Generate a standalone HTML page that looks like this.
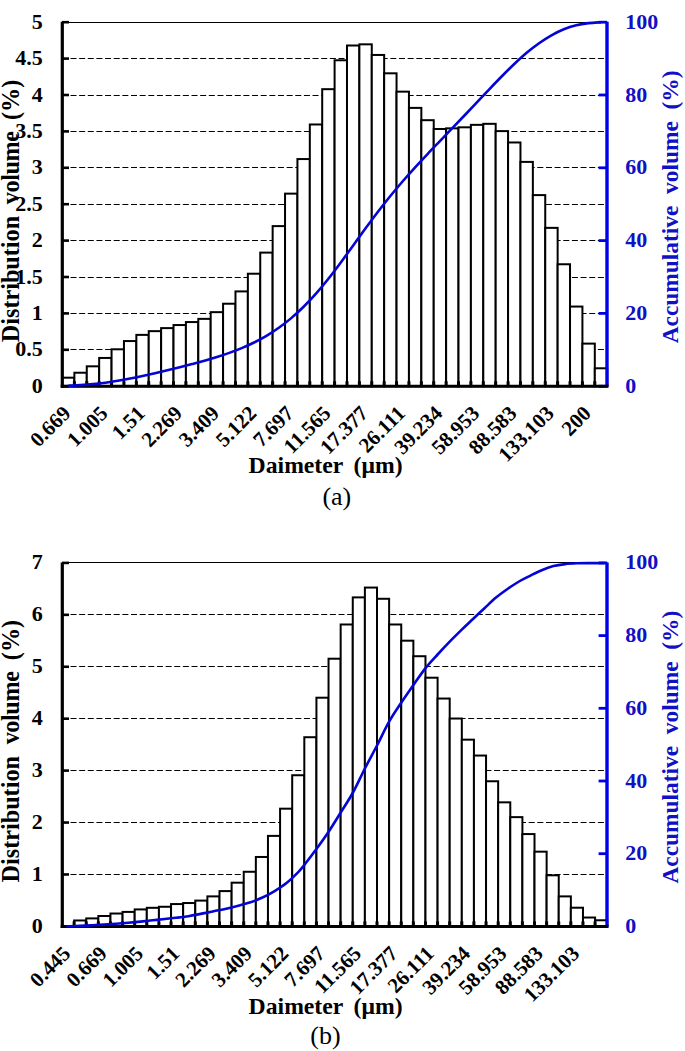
<!DOCTYPE html>
<html><head><meta charset="utf-8"><style>
html,body{margin:0;padding:0;background:#fff;}
svg{display:block;}
</style></head><body>
<svg width="685" height="1051" viewBox="0 0 685 1051">
<rect width="685" height="1051" fill="#fff"/>
<line x1="70.50" y1="349.50" x2="605.20" y2="349.50" stroke="#000" stroke-width="1" stroke-dasharray="6 2.645"/>
<line x1="70.50" y1="313.50" x2="605.20" y2="313.50" stroke="#000" stroke-width="1" stroke-dasharray="6 2.645"/>
<line x1="70.50" y1="277.50" x2="605.20" y2="277.50" stroke="#000" stroke-width="1" stroke-dasharray="6 2.645"/>
<line x1="70.50" y1="240.50" x2="605.20" y2="240.50" stroke="#000" stroke-width="1" stroke-dasharray="6 2.645"/>
<line x1="70.50" y1="204.50" x2="605.20" y2="204.50" stroke="#000" stroke-width="1" stroke-dasharray="6 2.645"/>
<line x1="70.50" y1="167.50" x2="605.20" y2="167.50" stroke="#000" stroke-width="1" stroke-dasharray="6 2.645"/>
<line x1="70.50" y1="131.50" x2="605.20" y2="131.50" stroke="#000" stroke-width="1" stroke-dasharray="6 2.645"/>
<line x1="70.50" y1="95.50" x2="605.20" y2="95.50" stroke="#000" stroke-width="1" stroke-dasharray="6 2.645"/>
<line x1="70.50" y1="58.50" x2="605.20" y2="58.50" stroke="#000" stroke-width="1" stroke-dasharray="6 2.645"/>
<line x1="62.00" y1="22.50" x2="607.20" y2="22.50" stroke="#000" stroke-width="1"/>
<rect x="62.00" y="377.68" width="12.39" height="8.52" fill="#fff" stroke="#000" stroke-width="2"/>
<rect x="74.39" y="372.73" width="12.39" height="13.47" fill="#fff" stroke="#000" stroke-width="2"/>
<rect x="86.78" y="366.33" width="12.39" height="19.87" fill="#fff" stroke="#000" stroke-width="2"/>
<rect x="99.17" y="357.95" width="12.39" height="28.25" fill="#fff" stroke="#000" stroke-width="2"/>
<rect x="111.56" y="349.29" width="12.39" height="36.91" fill="#fff" stroke="#000" stroke-width="2"/>
<rect x="123.95" y="341.06" width="12.39" height="45.14" fill="#fff" stroke="#000" stroke-width="2"/>
<rect x="136.35" y="334.88" width="12.39" height="51.32" fill="#fff" stroke="#000" stroke-width="2"/>
<rect x="148.74" y="331.16" width="12.39" height="55.04" fill="#fff" stroke="#000" stroke-width="2"/>
<rect x="161.13" y="328.11" width="12.39" height="58.09" fill="#fff" stroke="#000" stroke-width="2"/>
<rect x="173.52" y="325.05" width="12.39" height="61.15" fill="#fff" stroke="#000" stroke-width="2"/>
<rect x="185.91" y="322.06" width="12.39" height="64.14" fill="#fff" stroke="#000" stroke-width="2"/>
<rect x="198.30" y="318.86" width="12.39" height="67.34" fill="#fff" stroke="#000" stroke-width="2"/>
<rect x="210.69" y="312.16" width="12.39" height="74.04" fill="#fff" stroke="#000" stroke-width="2"/>
<rect x="223.08" y="303.72" width="12.39" height="82.48" fill="#fff" stroke="#000" stroke-width="2"/>
<rect x="235.47" y="291.41" width="12.39" height="94.79" fill="#fff" stroke="#000" stroke-width="2"/>
<rect x="247.86" y="273.72" width="12.39" height="112.48" fill="#fff" stroke="#000" stroke-width="2"/>
<rect x="260.25" y="252.61" width="12.39" height="133.59" fill="#fff" stroke="#000" stroke-width="2"/>
<rect x="272.65" y="226.11" width="12.39" height="160.09" fill="#fff" stroke="#000" stroke-width="2"/>
<rect x="285.04" y="193.64" width="12.39" height="192.56" fill="#fff" stroke="#000" stroke-width="2"/>
<rect x="297.43" y="159.06" width="12.39" height="227.14" fill="#fff" stroke="#000" stroke-width="2"/>
<rect x="309.82" y="124.48" width="12.39" height="261.72" fill="#fff" stroke="#000" stroke-width="2"/>
<rect x="322.21" y="89.18" width="12.39" height="297.02" fill="#fff" stroke="#000" stroke-width="2"/>
<rect x="334.60" y="60.27" width="12.39" height="325.93" fill="#fff" stroke="#000" stroke-width="2"/>
<rect x="346.99" y="45.50" width="12.39" height="340.70" fill="#fff" stroke="#000" stroke-width="2"/>
<rect x="359.38" y="44.33" width="12.39" height="341.87" fill="#fff" stroke="#000" stroke-width="2"/>
<rect x="371.77" y="54.96" width="12.39" height="331.24" fill="#fff" stroke="#000" stroke-width="2"/>
<rect x="384.16" y="73.31" width="12.39" height="312.89" fill="#fff" stroke="#000" stroke-width="2"/>
<rect x="396.55" y="91.65" width="12.39" height="294.55" fill="#fff" stroke="#000" stroke-width="2"/>
<rect x="408.95" y="107.89" width="12.39" height="278.31" fill="#fff" stroke="#000" stroke-width="2"/>
<rect x="421.34" y="120.19" width="12.39" height="266.01" fill="#fff" stroke="#000" stroke-width="2"/>
<rect x="433.73" y="129.00" width="12.39" height="257.20" fill="#fff" stroke="#000" stroke-width="2"/>
<rect x="446.12" y="128.34" width="12.39" height="257.86" fill="#fff" stroke="#000" stroke-width="2"/>
<rect x="458.51" y="127.32" width="12.39" height="258.88" fill="#fff" stroke="#000" stroke-width="2"/>
<rect x="470.90" y="124.85" width="12.39" height="261.35" fill="#fff" stroke="#000" stroke-width="2"/>
<rect x="483.29" y="123.83" width="12.39" height="262.37" fill="#fff" stroke="#000" stroke-width="2"/>
<rect x="495.68" y="131.11" width="12.39" height="255.09" fill="#fff" stroke="#000" stroke-width="2"/>
<rect x="508.07" y="142.47" width="12.39" height="243.73" fill="#fff" stroke="#000" stroke-width="2"/>
<rect x="520.46" y="161.90" width="12.39" height="224.30" fill="#fff" stroke="#000" stroke-width="2"/>
<rect x="532.85" y="195.10" width="12.39" height="191.10" fill="#fff" stroke="#000" stroke-width="2"/>
<rect x="545.25" y="227.86" width="12.39" height="158.34" fill="#fff" stroke="#000" stroke-width="2"/>
<rect x="557.64" y="264.26" width="12.39" height="121.94" fill="#fff" stroke="#000" stroke-width="2"/>
<rect x="570.03" y="306.56" width="12.39" height="79.64" fill="#fff" stroke="#000" stroke-width="2"/>
<rect x="582.42" y="343.61" width="12.39" height="42.59" fill="#fff" stroke="#000" stroke-width="2"/>
<rect x="594.81" y="368.29" width="12.39" height="17.91" fill="#fff" stroke="#000" stroke-width="2"/>
<line x1="74.39" y1="386.20" x2="74.39" y2="381.20" stroke="#000" stroke-width="3"/>
<line x1="86.78" y1="386.20" x2="86.78" y2="381.20" stroke="#000" stroke-width="3"/>
<line x1="99.17" y1="386.20" x2="99.17" y2="381.20" stroke="#000" stroke-width="3"/>
<line x1="111.56" y1="386.20" x2="111.56" y2="381.20" stroke="#000" stroke-width="3"/>
<line x1="123.95" y1="386.20" x2="123.95" y2="381.20" stroke="#000" stroke-width="3"/>
<line x1="136.35" y1="386.20" x2="136.35" y2="381.20" stroke="#000" stroke-width="3"/>
<line x1="148.74" y1="386.20" x2="148.74" y2="381.20" stroke="#000" stroke-width="3"/>
<line x1="161.13" y1="386.20" x2="161.13" y2="381.20" stroke="#000" stroke-width="3"/>
<line x1="173.52" y1="386.20" x2="173.52" y2="381.20" stroke="#000" stroke-width="3"/>
<line x1="185.91" y1="386.20" x2="185.91" y2="381.20" stroke="#000" stroke-width="3"/>
<line x1="198.30" y1="386.20" x2="198.30" y2="381.20" stroke="#000" stroke-width="3"/>
<line x1="210.69" y1="386.20" x2="210.69" y2="381.20" stroke="#000" stroke-width="3"/>
<line x1="223.08" y1="386.20" x2="223.08" y2="381.20" stroke="#000" stroke-width="3"/>
<line x1="235.47" y1="386.20" x2="235.47" y2="381.20" stroke="#000" stroke-width="3"/>
<line x1="247.86" y1="386.20" x2="247.86" y2="381.20" stroke="#000" stroke-width="3"/>
<line x1="260.25" y1="386.20" x2="260.25" y2="381.20" stroke="#000" stroke-width="3"/>
<line x1="272.65" y1="386.20" x2="272.65" y2="381.20" stroke="#000" stroke-width="3"/>
<line x1="285.04" y1="386.20" x2="285.04" y2="381.20" stroke="#000" stroke-width="3"/>
<line x1="297.43" y1="386.20" x2="297.43" y2="381.20" stroke="#000" stroke-width="3"/>
<line x1="309.82" y1="386.20" x2="309.82" y2="381.20" stroke="#000" stroke-width="3"/>
<line x1="322.21" y1="386.20" x2="322.21" y2="381.20" stroke="#000" stroke-width="3"/>
<line x1="334.60" y1="386.20" x2="334.60" y2="381.20" stroke="#000" stroke-width="3"/>
<line x1="346.99" y1="386.20" x2="346.99" y2="381.20" stroke="#000" stroke-width="3"/>
<line x1="359.38" y1="386.20" x2="359.38" y2="381.20" stroke="#000" stroke-width="3"/>
<line x1="371.77" y1="386.20" x2="371.77" y2="381.20" stroke="#000" stroke-width="3"/>
<line x1="384.16" y1="386.20" x2="384.16" y2="381.20" stroke="#000" stroke-width="3"/>
<line x1="396.55" y1="386.20" x2="396.55" y2="381.20" stroke="#000" stroke-width="3"/>
<line x1="408.95" y1="386.20" x2="408.95" y2="381.20" stroke="#000" stroke-width="3"/>
<line x1="421.34" y1="386.20" x2="421.34" y2="381.20" stroke="#000" stroke-width="3"/>
<line x1="433.73" y1="386.20" x2="433.73" y2="381.20" stroke="#000" stroke-width="3"/>
<line x1="446.12" y1="386.20" x2="446.12" y2="381.20" stroke="#000" stroke-width="3"/>
<line x1="458.51" y1="386.20" x2="458.51" y2="381.20" stroke="#000" stroke-width="3"/>
<line x1="470.90" y1="386.20" x2="470.90" y2="381.20" stroke="#000" stroke-width="3"/>
<line x1="483.29" y1="386.20" x2="483.29" y2="381.20" stroke="#000" stroke-width="3"/>
<line x1="495.68" y1="386.20" x2="495.68" y2="381.20" stroke="#000" stroke-width="3"/>
<line x1="508.07" y1="386.20" x2="508.07" y2="381.20" stroke="#000" stroke-width="3"/>
<line x1="520.46" y1="386.20" x2="520.46" y2="381.20" stroke="#000" stroke-width="3"/>
<line x1="532.85" y1="386.20" x2="532.85" y2="381.20" stroke="#000" stroke-width="3"/>
<line x1="545.25" y1="386.20" x2="545.25" y2="381.20" stroke="#000" stroke-width="3"/>
<line x1="557.64" y1="386.20" x2="557.64" y2="381.20" stroke="#000" stroke-width="3"/>
<line x1="570.03" y1="386.20" x2="570.03" y2="381.20" stroke="#000" stroke-width="3"/>
<line x1="582.42" y1="386.20" x2="582.42" y2="381.20" stroke="#000" stroke-width="3"/>
<line x1="594.81" y1="386.20" x2="594.81" y2="381.20" stroke="#000" stroke-width="3"/>
<line x1="62.30" y1="21.70" x2="62.30" y2="387.70" stroke="#000" stroke-width="3.2"/>
<line x1="62.00" y1="386.20" x2="69.00" y2="386.20" stroke="#000" stroke-width="2.6"/>
<line x1="62.00" y1="349.80" x2="69.00" y2="349.80" stroke="#000" stroke-width="2.6"/>
<line x1="62.00" y1="313.40" x2="69.00" y2="313.40" stroke="#000" stroke-width="2.6"/>
<line x1="62.00" y1="277.00" x2="69.00" y2="277.00" stroke="#000" stroke-width="2.6"/>
<line x1="62.00" y1="240.60" x2="69.00" y2="240.60" stroke="#000" stroke-width="2.6"/>
<line x1="62.00" y1="204.20" x2="69.00" y2="204.20" stroke="#000" stroke-width="2.6"/>
<line x1="62.00" y1="167.80" x2="69.00" y2="167.80" stroke="#000" stroke-width="2.6"/>
<line x1="62.00" y1="131.40" x2="69.00" y2="131.40" stroke="#000" stroke-width="2.6"/>
<line x1="62.00" y1="95.00" x2="69.00" y2="95.00" stroke="#000" stroke-width="2.6"/>
<line x1="62.00" y1="58.60" x2="69.00" y2="58.60" stroke="#000" stroke-width="2.6"/>
<line x1="62.00" y1="22.20" x2="69.00" y2="22.20" stroke="#000" stroke-width="2.6"/>
<line x1="607.00" y1="21.70" x2="607.00" y2="386.20" stroke="#0000E6" stroke-width="3.4"/>
<line x1="598.60" y1="386.20" x2="607.20" y2="386.20" stroke="#0000E6" stroke-width="2.8"/>
<line x1="598.60" y1="313.40" x2="607.20" y2="313.40" stroke="#0000E6" stroke-width="2.8"/>
<line x1="598.60" y1="240.60" x2="607.20" y2="240.60" stroke="#0000E6" stroke-width="2.8"/>
<line x1="598.60" y1="167.80" x2="607.20" y2="167.80" stroke="#0000E6" stroke-width="2.8"/>
<line x1="598.60" y1="95.00" x2="607.20" y2="95.00" stroke="#0000E6" stroke-width="2.8"/>
<line x1="598.60" y1="22.20" x2="607.20" y2="22.20" stroke="#0000E6" stroke-width="2.8"/>
<line x1="60.70" y1="386.20" x2="608.50" y2="386.20" stroke="#000" stroke-width="3"/>
<path d="M68.20,385.77 C70.26,385.66 76.46,385.38 80.59,385.10 C84.72,384.82 88.85,384.51 92.98,384.10 C97.11,383.70 101.24,383.23 105.37,382.69 C109.50,382.15 113.63,381.53 117.76,380.84 C121.89,380.16 126.02,379.39 130.15,378.58 C134.28,377.78 138.41,376.90 142.54,376.01 C146.67,375.12 150.80,374.20 154.93,373.25 C159.06,372.31 163.19,371.34 167.32,370.35 C171.45,369.35 175.58,368.33 179.71,367.28 C183.84,366.24 187.97,365.17 192.10,364.07 C196.23,362.97 200.37,361.88 204.50,360.70 C208.63,359.52 212.76,358.30 216.89,356.99 C221.02,355.69 225.15,354.34 229.28,352.86 C233.41,351.38 237.54,349.84 241.67,348.12 C245.80,346.39 249.93,344.54 254.06,342.48 C258.19,340.43 262.32,338.24 266.45,335.79 C270.58,333.34 274.71,330.72 278.84,327.78 C282.97,324.83 287.10,321.64 291.23,318.13 C295.36,314.63 299.49,310.84 303.62,306.76 C307.75,302.68 311.88,298.32 316.01,293.65 C320.14,288.99 324.27,283.98 328.40,278.78 C332.53,273.58 336.67,268.02 340.80,262.46 C344.93,256.90 349.06,251.10 353.19,245.40 C357.32,239.70 361.45,233.90 365.58,228.28 C369.71,222.66 373.84,217.07 377.97,211.69 C382.10,206.32 386.23,201.09 390.36,196.02 C394.49,190.95 398.62,186.05 402.75,181.27 C406.88,176.49 411.01,171.88 415.14,167.34 C419.27,162.79 423.40,158.38 427.53,154.02 C431.66,149.65 435.79,145.43 439.92,141.14 C444.05,136.84 448.18,132.54 452.31,128.22 C456.44,123.91 460.57,119.60 464.70,115.26 C468.83,110.92 472.97,106.54 477.10,102.17 C481.23,97.80 485.36,93.35 489.49,89.03 C493.62,84.71 497.75,80.42 501.88,76.26 C506.01,72.10 510.14,67.96 514.27,64.05 C518.40,60.15 522.53,56.29 526.66,52.82 C530.79,49.36 534.92,46.17 539.05,43.25 C543.18,40.34 547.31,37.66 551.44,35.32 C555.57,32.98 559.70,30.90 563.83,29.22 C567.96,27.54 572.09,26.25 576.22,25.23 C580.35,24.21 584.48,23.60 588.61,23.10 C592.74,22.59 598.94,22.35 601.00,22.20" fill="none" stroke="#0404D4" stroke-width="2.6"/>
<text x="42.80" y="385.20" text-anchor="end" dominant-baseline="central" font-family="Liberation Serif" font-weight="bold" font-size="22">0</text>
<text x="42.80" y="348.80" text-anchor="end" dominant-baseline="central" font-family="Liberation Serif" font-weight="bold" font-size="22">0.5</text>
<text x="42.80" y="312.40" text-anchor="end" dominant-baseline="central" font-family="Liberation Serif" font-weight="bold" font-size="22">1</text>
<text x="42.80" y="276.00" text-anchor="end" dominant-baseline="central" font-family="Liberation Serif" font-weight="bold" font-size="22">1.5</text>
<text x="42.80" y="239.60" text-anchor="end" dominant-baseline="central" font-family="Liberation Serif" font-weight="bold" font-size="22">2</text>
<text x="42.80" y="203.20" text-anchor="end" dominant-baseline="central" font-family="Liberation Serif" font-weight="bold" font-size="22">2.5</text>
<text x="42.80" y="166.80" text-anchor="end" dominant-baseline="central" font-family="Liberation Serif" font-weight="bold" font-size="22">3</text>
<text x="42.80" y="130.40" text-anchor="end" dominant-baseline="central" font-family="Liberation Serif" font-weight="bold" font-size="22">3.5</text>
<text x="42.80" y="94.00" text-anchor="end" dominant-baseline="central" font-family="Liberation Serif" font-weight="bold" font-size="22">4</text>
<text x="42.80" y="57.60" text-anchor="end" dominant-baseline="central" font-family="Liberation Serif" font-weight="bold" font-size="22">4.5</text>
<text x="42.80" y="21.20" text-anchor="end" dominant-baseline="central" font-family="Liberation Serif" font-weight="bold" font-size="22">5</text>
<text x="625.20" y="385.20" dominant-baseline="central" font-family="Liberation Serif" font-weight="bold" font-size="22" fill="#1010C4">0</text>
<text x="625.20" y="312.40" dominant-baseline="central" font-family="Liberation Serif" font-weight="bold" font-size="22" fill="#1010C4">20</text>
<text x="625.20" y="239.60" dominant-baseline="central" font-family="Liberation Serif" font-weight="bold" font-size="22" fill="#1010C4">40</text>
<text x="625.20" y="166.80" dominant-baseline="central" font-family="Liberation Serif" font-weight="bold" font-size="22" fill="#1010C4">60</text>
<text x="625.20" y="94.00" dominant-baseline="central" font-family="Liberation Serif" font-weight="bold" font-size="22" fill="#1010C4">80</text>
<text x="625.20" y="21.20" dominant-baseline="central" font-family="Liberation Serif" font-weight="bold" font-size="22" fill="#1010C4">100</text>
<text transform="translate(66.90,409.70) rotate(-45)" text-anchor="end" dominant-baseline="central" font-family="Liberation Serif" font-weight="bold" font-size="21">0.669</text>
<text transform="translate(104.07,409.70) rotate(-45)" text-anchor="end" dominant-baseline="central" font-family="Liberation Serif" font-weight="bold" font-size="21">1.005</text>
<text transform="translate(141.24,409.70) rotate(-45)" text-anchor="end" dominant-baseline="central" font-family="Liberation Serif" font-weight="bold" font-size="21">1.51</text>
<text transform="translate(178.41,409.70) rotate(-45)" text-anchor="end" dominant-baseline="central" font-family="Liberation Serif" font-weight="bold" font-size="21">2.269</text>
<text transform="translate(215.59,409.70) rotate(-45)" text-anchor="end" dominant-baseline="central" font-family="Liberation Serif" font-weight="bold" font-size="21">3.409</text>
<text transform="translate(252.76,409.70) rotate(-45)" text-anchor="end" dominant-baseline="central" font-family="Liberation Serif" font-weight="bold" font-size="21">5.122</text>
<text transform="translate(289.93,409.70) rotate(-45)" text-anchor="end" dominant-baseline="central" font-family="Liberation Serif" font-weight="bold" font-size="21">7.697</text>
<text transform="translate(327.10,409.70) rotate(-45)" text-anchor="end" dominant-baseline="central" font-family="Liberation Serif" font-weight="bold" font-size="21">11.565</text>
<text transform="translate(364.28,409.70) rotate(-45)" text-anchor="end" dominant-baseline="central" font-family="Liberation Serif" font-weight="bold" font-size="21">17.377</text>
<text transform="translate(401.45,409.70) rotate(-45)" text-anchor="end" dominant-baseline="central" font-family="Liberation Serif" font-weight="bold" font-size="21">26.111</text>
<text transform="translate(438.62,409.70) rotate(-45)" text-anchor="end" dominant-baseline="central" font-family="Liberation Serif" font-weight="bold" font-size="21">39.234</text>
<text transform="translate(475.80,409.70) rotate(-45)" text-anchor="end" dominant-baseline="central" font-family="Liberation Serif" font-weight="bold" font-size="21">58.953</text>
<text transform="translate(512.97,409.70) rotate(-45)" text-anchor="end" dominant-baseline="central" font-family="Liberation Serif" font-weight="bold" font-size="21">88.583</text>
<text transform="translate(550.14,409.70) rotate(-45)" text-anchor="end" dominant-baseline="central" font-family="Liberation Serif" font-weight="bold" font-size="21">133.103</text>
<text transform="translate(587.31,409.70) rotate(-45)" text-anchor="end" dominant-baseline="central" font-family="Liberation Serif" font-weight="bold" font-size="21">200</text>
<text transform="translate(19.3,342.20) rotate(-90)" font-family="Liberation Serif" font-weight="bold" font-size="24.2">Distribution<tspan dx="-0.40">&#160;&#160;</tspan><tspan letter-spacing="-0.4">volume</tspan><tspan dx="-0.70">&#160;&#160;(%)</tspan></text>
<text transform="translate(677.60,206.95) rotate(-90)" text-anchor="middle" font-family="Liberation Serif" font-weight="bold" font-size="23.4" fill="#1010C4">Accumulative&#160;&#160;volume&#160;&#160;(%)</text>
<text x="248.6" y="473.10" font-family="Liberation Serif" font-weight="bold" font-size="23.7">Daimeter</text>
<text x="353.6" y="473.10" font-family="Liberation Serif" font-weight="bold" font-size="23.7">(&#956;m)</text>
<text x="336.85" y="505.30" text-anchor="middle" font-family="Liberation Serif" font-size="26">(a)</text>
<line x1="70.50" y1="874.50" x2="605.20" y2="874.50" stroke="#000" stroke-width="1" stroke-dasharray="6 2.645"/>
<line x1="70.50" y1="822.50" x2="605.20" y2="822.50" stroke="#000" stroke-width="1" stroke-dasharray="6 2.645"/>
<line x1="70.50" y1="770.50" x2="605.20" y2="770.50" stroke="#000" stroke-width="1" stroke-dasharray="6 2.645"/>
<line x1="70.50" y1="718.50" x2="605.20" y2="718.50" stroke="#000" stroke-width="1" stroke-dasharray="6 2.645"/>
<line x1="70.50" y1="666.50" x2="605.20" y2="666.50" stroke="#000" stroke-width="1" stroke-dasharray="6 2.645"/>
<line x1="70.50" y1="614.50" x2="605.20" y2="614.50" stroke="#000" stroke-width="1" stroke-dasharray="6 2.645"/>
<line x1="62.00" y1="562.50" x2="607.20" y2="562.50" stroke="#000" stroke-width="1"/>
<rect x="74.12" y="920.48" width="12.12" height="5.92" fill="#fff" stroke="#000" stroke-width="2"/>
<rect x="86.23" y="918.40" width="12.12" height="8.00" fill="#fff" stroke="#000" stroke-width="2"/>
<rect x="98.35" y="916.01" width="12.12" height="10.39" fill="#fff" stroke="#000" stroke-width="2"/>
<rect x="110.46" y="913.52" width="12.12" height="12.88" fill="#fff" stroke="#000" stroke-width="2"/>
<rect x="122.58" y="911.91" width="12.12" height="14.49" fill="#fff" stroke="#000" stroke-width="2"/>
<rect x="134.69" y="909.42" width="12.12" height="16.98" fill="#fff" stroke="#000" stroke-width="2"/>
<rect x="146.81" y="907.81" width="12.12" height="18.59" fill="#fff" stroke="#000" stroke-width="2"/>
<rect x="158.92" y="906.77" width="12.12" height="19.63" fill="#fff" stroke="#000" stroke-width="2"/>
<rect x="171.04" y="904.07" width="12.12" height="22.33" fill="#fff" stroke="#000" stroke-width="2"/>
<rect x="183.16" y="903.03" width="12.12" height="23.37" fill="#fff" stroke="#000" stroke-width="2"/>
<rect x="195.27" y="900.59" width="12.12" height="25.81" fill="#fff" stroke="#000" stroke-width="2"/>
<rect x="207.39" y="896.39" width="12.12" height="30.01" fill="#fff" stroke="#000" stroke-width="2"/>
<rect x="219.50" y="891.09" width="12.12" height="35.31" fill="#fff" stroke="#000" stroke-width="2"/>
<rect x="231.62" y="882.68" width="12.12" height="43.72" fill="#fff" stroke="#000" stroke-width="2"/>
<rect x="243.73" y="871.77" width="12.12" height="54.63" fill="#fff" stroke="#000" stroke-width="2"/>
<rect x="255.85" y="856.97" width="12.12" height="69.43" fill="#fff" stroke="#000" stroke-width="2"/>
<rect x="267.96" y="835.89" width="12.12" height="90.51" fill="#fff" stroke="#000" stroke-width="2"/>
<rect x="280.08" y="808.68" width="12.12" height="117.72" fill="#fff" stroke="#000" stroke-width="2"/>
<rect x="292.20" y="775.24" width="12.12" height="151.16" fill="#fff" stroke="#000" stroke-width="2"/>
<rect x="304.31" y="737.22" width="12.12" height="189.18" fill="#fff" stroke="#000" stroke-width="2"/>
<rect x="316.43" y="697.71" width="12.12" height="228.69" fill="#fff" stroke="#000" stroke-width="2"/>
<rect x="328.54" y="658.71" width="12.12" height="267.69" fill="#fff" stroke="#000" stroke-width="2"/>
<rect x="340.66" y="624.49" width="12.12" height="301.91" fill="#fff" stroke="#000" stroke-width="2"/>
<rect x="352.77" y="597.38" width="12.12" height="329.02" fill="#fff" stroke="#000" stroke-width="2"/>
<rect x="364.89" y="587.57" width="12.12" height="338.83" fill="#fff" stroke="#000" stroke-width="2"/>
<rect x="377.00" y="598.78" width="12.12" height="327.62" fill="#fff" stroke="#000" stroke-width="2"/>
<rect x="389.12" y="624.49" width="12.12" height="301.91" fill="#fff" stroke="#000" stroke-width="2"/>
<rect x="401.24" y="640.69" width="12.12" height="285.71" fill="#fff" stroke="#000" stroke-width="2"/>
<rect x="413.35" y="656.22" width="12.12" height="270.18" fill="#fff" stroke="#000" stroke-width="2"/>
<rect x="425.47" y="677.71" width="12.12" height="248.69" fill="#fff" stroke="#000" stroke-width="2"/>
<rect x="437.58" y="698.54" width="12.12" height="227.86" fill="#fff" stroke="#000" stroke-width="2"/>
<rect x="449.70" y="718.53" width="12.12" height="207.87" fill="#fff" stroke="#000" stroke-width="2"/>
<rect x="461.81" y="739.66" width="12.12" height="186.74" fill="#fff" stroke="#000" stroke-width="2"/>
<rect x="473.93" y="755.55" width="12.12" height="170.84" fill="#fff" stroke="#000" stroke-width="2"/>
<rect x="486.04" y="781.26" width="12.12" height="145.14" fill="#fff" stroke="#000" stroke-width="2"/>
<rect x="498.16" y="802.34" width="12.12" height="124.06" fill="#fff" stroke="#000" stroke-width="2"/>
<rect x="510.28" y="817.14" width="12.12" height="109.26" fill="#fff" stroke="#000" stroke-width="2"/>
<rect x="522.39" y="834.07" width="12.12" height="92.33" fill="#fff" stroke="#000" stroke-width="2"/>
<rect x="534.51" y="851.67" width="12.12" height="74.73" fill="#fff" stroke="#000" stroke-width="2"/>
<rect x="546.62" y="875.30" width="12.12" height="51.10" fill="#fff" stroke="#000" stroke-width="2"/>
<rect x="558.74" y="896.39" width="12.12" height="30.01" fill="#fff" stroke="#000" stroke-width="2"/>
<rect x="570.85" y="907.71" width="12.12" height="18.69" fill="#fff" stroke="#000" stroke-width="2"/>
<rect x="582.97" y="917.52" width="12.12" height="8.88" fill="#fff" stroke="#000" stroke-width="2"/>
<rect x="595.08" y="920.27" width="12.12" height="6.13" fill="#fff" stroke="#000" stroke-width="2"/>
<line x1="74.12" y1="926.40" x2="74.12" y2="921.40" stroke="#000" stroke-width="3"/>
<line x1="86.23" y1="926.40" x2="86.23" y2="921.40" stroke="#000" stroke-width="3"/>
<line x1="98.35" y1="926.40" x2="98.35" y2="921.40" stroke="#000" stroke-width="3"/>
<line x1="110.46" y1="926.40" x2="110.46" y2="921.40" stroke="#000" stroke-width="3"/>
<line x1="122.58" y1="926.40" x2="122.58" y2="921.40" stroke="#000" stroke-width="3"/>
<line x1="134.69" y1="926.40" x2="134.69" y2="921.40" stroke="#000" stroke-width="3"/>
<line x1="146.81" y1="926.40" x2="146.81" y2="921.40" stroke="#000" stroke-width="3"/>
<line x1="158.92" y1="926.40" x2="158.92" y2="921.40" stroke="#000" stroke-width="3"/>
<line x1="171.04" y1="926.40" x2="171.04" y2="921.40" stroke="#000" stroke-width="3"/>
<line x1="183.16" y1="926.40" x2="183.16" y2="921.40" stroke="#000" stroke-width="3"/>
<line x1="195.27" y1="926.40" x2="195.27" y2="921.40" stroke="#000" stroke-width="3"/>
<line x1="207.39" y1="926.40" x2="207.39" y2="921.40" stroke="#000" stroke-width="3"/>
<line x1="219.50" y1="926.40" x2="219.50" y2="921.40" stroke="#000" stroke-width="3"/>
<line x1="231.62" y1="926.40" x2="231.62" y2="921.40" stroke="#000" stroke-width="3"/>
<line x1="243.73" y1="926.40" x2="243.73" y2="921.40" stroke="#000" stroke-width="3"/>
<line x1="255.85" y1="926.40" x2="255.85" y2="921.40" stroke="#000" stroke-width="3"/>
<line x1="267.96" y1="926.40" x2="267.96" y2="921.40" stroke="#000" stroke-width="3"/>
<line x1="280.08" y1="926.40" x2="280.08" y2="921.40" stroke="#000" stroke-width="3"/>
<line x1="292.20" y1="926.40" x2="292.20" y2="921.40" stroke="#000" stroke-width="3"/>
<line x1="304.31" y1="926.40" x2="304.31" y2="921.40" stroke="#000" stroke-width="3"/>
<line x1="316.43" y1="926.40" x2="316.43" y2="921.40" stroke="#000" stroke-width="3"/>
<line x1="328.54" y1="926.40" x2="328.54" y2="921.40" stroke="#000" stroke-width="3"/>
<line x1="340.66" y1="926.40" x2="340.66" y2="921.40" stroke="#000" stroke-width="3"/>
<line x1="352.77" y1="926.40" x2="352.77" y2="921.40" stroke="#000" stroke-width="3"/>
<line x1="364.89" y1="926.40" x2="364.89" y2="921.40" stroke="#000" stroke-width="3"/>
<line x1="377.00" y1="926.40" x2="377.00" y2="921.40" stroke="#000" stroke-width="3"/>
<line x1="389.12" y1="926.40" x2="389.12" y2="921.40" stroke="#000" stroke-width="3"/>
<line x1="401.24" y1="926.40" x2="401.24" y2="921.40" stroke="#000" stroke-width="3"/>
<line x1="413.35" y1="926.40" x2="413.35" y2="921.40" stroke="#000" stroke-width="3"/>
<line x1="425.47" y1="926.40" x2="425.47" y2="921.40" stroke="#000" stroke-width="3"/>
<line x1="437.58" y1="926.40" x2="437.58" y2="921.40" stroke="#000" stroke-width="3"/>
<line x1="449.70" y1="926.40" x2="449.70" y2="921.40" stroke="#000" stroke-width="3"/>
<line x1="461.81" y1="926.40" x2="461.81" y2="921.40" stroke="#000" stroke-width="3"/>
<line x1="473.93" y1="926.40" x2="473.93" y2="921.40" stroke="#000" stroke-width="3"/>
<line x1="486.04" y1="926.40" x2="486.04" y2="921.40" stroke="#000" stroke-width="3"/>
<line x1="498.16" y1="926.40" x2="498.16" y2="921.40" stroke="#000" stroke-width="3"/>
<line x1="510.28" y1="926.40" x2="510.28" y2="921.40" stroke="#000" stroke-width="3"/>
<line x1="522.39" y1="926.40" x2="522.39" y2="921.40" stroke="#000" stroke-width="3"/>
<line x1="534.51" y1="926.40" x2="534.51" y2="921.40" stroke="#000" stroke-width="3"/>
<line x1="546.62" y1="926.40" x2="546.62" y2="921.40" stroke="#000" stroke-width="3"/>
<line x1="558.74" y1="926.40" x2="558.74" y2="921.40" stroke="#000" stroke-width="3"/>
<line x1="570.85" y1="926.40" x2="570.85" y2="921.40" stroke="#000" stroke-width="3"/>
<line x1="582.97" y1="926.40" x2="582.97" y2="921.40" stroke="#000" stroke-width="3"/>
<line x1="595.08" y1="926.40" x2="595.08" y2="921.40" stroke="#000" stroke-width="3"/>
<line x1="62.30" y1="562.40" x2="62.30" y2="927.90" stroke="#000" stroke-width="3.2"/>
<line x1="62.00" y1="926.40" x2="69.00" y2="926.40" stroke="#000" stroke-width="2.6"/>
<line x1="62.00" y1="874.47" x2="69.00" y2="874.47" stroke="#000" stroke-width="2.6"/>
<line x1="62.00" y1="822.54" x2="69.00" y2="822.54" stroke="#000" stroke-width="2.6"/>
<line x1="62.00" y1="770.61" x2="69.00" y2="770.61" stroke="#000" stroke-width="2.6"/>
<line x1="62.00" y1="718.69" x2="69.00" y2="718.69" stroke="#000" stroke-width="2.6"/>
<line x1="62.00" y1="666.76" x2="69.00" y2="666.76" stroke="#000" stroke-width="2.6"/>
<line x1="62.00" y1="614.83" x2="69.00" y2="614.83" stroke="#000" stroke-width="2.6"/>
<line x1="62.00" y1="562.90" x2="69.00" y2="562.90" stroke="#000" stroke-width="2.6"/>
<line x1="607.00" y1="562.40" x2="607.00" y2="926.40" stroke="#0000E6" stroke-width="3.4"/>
<line x1="598.60" y1="926.40" x2="607.20" y2="926.40" stroke="#0000E6" stroke-width="2.8"/>
<line x1="598.60" y1="853.70" x2="607.20" y2="853.70" stroke="#0000E6" stroke-width="2.8"/>
<line x1="598.60" y1="781.00" x2="607.20" y2="781.00" stroke="#0000E6" stroke-width="2.8"/>
<line x1="598.60" y1="708.30" x2="607.20" y2="708.30" stroke="#0000E6" stroke-width="2.8"/>
<line x1="598.60" y1="635.60" x2="607.20" y2="635.60" stroke="#0000E6" stroke-width="2.8"/>
<line x1="598.60" y1="562.90" x2="607.20" y2="562.90" stroke="#0000E6" stroke-width="2.8"/>
<line x1="60.70" y1="926.40" x2="608.50" y2="926.40" stroke="#000" stroke-width="3"/>
<path d="M66.00,926.30 C68.33,926.23 75.65,926.07 80.00,925.90 C84.35,925.73 88.07,925.52 92.10,925.30 C96.13,925.08 100.17,924.87 104.20,924.60 C108.23,924.33 112.27,924.02 116.30,923.70 C120.33,923.38 124.35,923.05 128.40,922.70 C132.45,922.35 136.55,922.00 140.60,921.60 C144.65,921.20 148.67,920.73 152.70,920.30 C156.73,919.87 160.88,919.42 164.80,919.00 C168.72,918.58 172.27,918.27 176.20,917.80 C180.13,917.33 184.33,916.85 188.40,916.20 C192.47,915.55 196.53,914.70 200.60,913.90 C204.67,913.10 208.72,912.23 212.80,911.40 C216.88,910.57 221.00,909.80 225.10,908.90 C229.20,908.00 233.30,907.05 237.40,906.00 C241.50,904.95 245.62,903.97 249.70,902.60 C253.78,901.23 257.82,899.68 261.90,897.80 C265.98,895.92 270.10,893.77 274.20,891.30 C278.30,888.83 282.45,886.25 286.50,883.00 C290.55,879.75 295.53,874.80 298.50,871.80 C301.47,868.80 301.32,868.78 304.30,865.00 C307.28,861.22 312.35,854.63 316.40,849.10 C320.45,843.57 324.55,837.90 328.60,831.80 C332.65,825.70 336.68,818.97 340.70,812.50 C344.72,806.03 348.67,800.33 352.70,793.00 C356.73,785.67 360.85,776.42 364.90,768.50 C368.95,760.58 372.97,753.30 377.00,745.50 C381.03,737.70 385.07,728.82 389.10,721.70 C393.13,714.58 397.15,708.90 401.20,702.80 C405.25,696.70 409.35,690.88 413.40,685.10 C417.45,679.32 421.47,673.20 425.50,668.10 C429.53,663.00 433.57,658.92 437.60,654.50 C441.63,650.08 445.67,645.75 449.70,641.60 C453.73,637.45 457.92,633.37 461.80,629.60 C465.68,625.83 469.22,622.57 473.00,619.00 C476.78,615.43 480.67,611.77 484.50,608.20 C488.33,604.63 492.17,600.80 496.00,597.60 C499.83,594.40 503.67,591.68 507.50,589.00 C511.33,586.32 515.25,583.70 519.00,581.50 C522.75,579.30 526.22,577.68 530.00,575.80 C533.78,573.92 537.80,571.82 541.70,570.20 C545.60,568.58 549.52,567.12 553.40,566.10 C557.28,565.08 561.12,564.57 565.00,564.10 C568.88,563.63 572.53,563.47 576.70,563.30 C580.87,563.13 585.33,563.13 590.00,563.10 C594.67,563.07 602.25,563.10 604.70,563.10" fill="none" stroke="#0404D4" stroke-width="2.6"/>
<text x="42.80" y="925.40" text-anchor="end" dominant-baseline="central" font-family="Liberation Serif" font-weight="bold" font-size="22">0</text>
<text x="42.80" y="873.47" text-anchor="end" dominant-baseline="central" font-family="Liberation Serif" font-weight="bold" font-size="22">1</text>
<text x="42.80" y="821.54" text-anchor="end" dominant-baseline="central" font-family="Liberation Serif" font-weight="bold" font-size="22">2</text>
<text x="42.80" y="769.61" text-anchor="end" dominant-baseline="central" font-family="Liberation Serif" font-weight="bold" font-size="22">3</text>
<text x="42.80" y="717.69" text-anchor="end" dominant-baseline="central" font-family="Liberation Serif" font-weight="bold" font-size="22">4</text>
<text x="42.80" y="665.76" text-anchor="end" dominant-baseline="central" font-family="Liberation Serif" font-weight="bold" font-size="22">5</text>
<text x="42.80" y="613.83" text-anchor="end" dominant-baseline="central" font-family="Liberation Serif" font-weight="bold" font-size="22">6</text>
<text x="42.80" y="561.90" text-anchor="end" dominant-baseline="central" font-family="Liberation Serif" font-weight="bold" font-size="22">7</text>
<text x="625.20" y="925.40" dominant-baseline="central" font-family="Liberation Serif" font-weight="bold" font-size="22" fill="#1010C4">0</text>
<text x="625.20" y="852.70" dominant-baseline="central" font-family="Liberation Serif" font-weight="bold" font-size="22" fill="#1010C4">20</text>
<text x="625.20" y="780.00" dominant-baseline="central" font-family="Liberation Serif" font-weight="bold" font-size="22" fill="#1010C4">40</text>
<text x="625.20" y="707.30" dominant-baseline="central" font-family="Liberation Serif" font-weight="bold" font-size="22" fill="#1010C4">60</text>
<text x="625.20" y="634.60" dominant-baseline="central" font-family="Liberation Serif" font-weight="bold" font-size="22" fill="#1010C4">80</text>
<text x="625.20" y="561.90" dominant-baseline="central" font-family="Liberation Serif" font-weight="bold" font-size="22" fill="#1010C4">100</text>
<text transform="translate(66.76,949.90) rotate(-45)" text-anchor="end" dominant-baseline="central" font-family="Liberation Serif" font-weight="bold" font-size="21">0.445</text>
<text transform="translate(103.10,949.90) rotate(-45)" text-anchor="end" dominant-baseline="central" font-family="Liberation Serif" font-weight="bold" font-size="21">0.669</text>
<text transform="translate(139.45,949.90) rotate(-45)" text-anchor="end" dominant-baseline="central" font-family="Liberation Serif" font-weight="bold" font-size="21">1.005</text>
<text transform="translate(175.80,949.90) rotate(-45)" text-anchor="end" dominant-baseline="central" font-family="Liberation Serif" font-weight="bold" font-size="21">1.51</text>
<text transform="translate(212.14,949.90) rotate(-45)" text-anchor="end" dominant-baseline="central" font-family="Liberation Serif" font-weight="bold" font-size="21">2.269</text>
<text transform="translate(248.49,949.90) rotate(-45)" text-anchor="end" dominant-baseline="central" font-family="Liberation Serif" font-weight="bold" font-size="21">3.409</text>
<text transform="translate(284.84,949.90) rotate(-45)" text-anchor="end" dominant-baseline="central" font-family="Liberation Serif" font-weight="bold" font-size="21">5.122</text>
<text transform="translate(321.18,949.90) rotate(-45)" text-anchor="end" dominant-baseline="central" font-family="Liberation Serif" font-weight="bold" font-size="21">7.697</text>
<text transform="translate(357.53,949.90) rotate(-45)" text-anchor="end" dominant-baseline="central" font-family="Liberation Serif" font-weight="bold" font-size="21">11.565</text>
<text transform="translate(393.88,949.90) rotate(-45)" text-anchor="end" dominant-baseline="central" font-family="Liberation Serif" font-weight="bold" font-size="21">17.377</text>
<text transform="translate(430.22,949.90) rotate(-45)" text-anchor="end" dominant-baseline="central" font-family="Liberation Serif" font-weight="bold" font-size="21">26.111</text>
<text transform="translate(466.57,949.90) rotate(-45)" text-anchor="end" dominant-baseline="central" font-family="Liberation Serif" font-weight="bold" font-size="21">39.234</text>
<text transform="translate(502.92,949.90) rotate(-45)" text-anchor="end" dominant-baseline="central" font-family="Liberation Serif" font-weight="bold" font-size="21">58.953</text>
<text transform="translate(539.26,949.90) rotate(-45)" text-anchor="end" dominant-baseline="central" font-family="Liberation Serif" font-weight="bold" font-size="21">88.583</text>
<text transform="translate(575.61,949.90) rotate(-45)" text-anchor="end" dominant-baseline="central" font-family="Liberation Serif" font-weight="bold" font-size="21">133.103</text>
<text transform="translate(19.3,882.40) rotate(-90)" font-family="Liberation Serif" font-weight="bold" font-size="24.2">Distribution<tspan dx="-0.40">&#160;&#160;</tspan><tspan letter-spacing="-0.4">volume</tspan><tspan dx="-0.70">&#160;&#160;(%)</tspan></text>
<text transform="translate(677.60,747.15) rotate(-90)" text-anchor="middle" font-family="Liberation Serif" font-weight="bold" font-size="23.4" fill="#1010C4">Accumulative&#160;&#160;volume&#160;&#160;(%)</text>
<text x="248.6" y="1013.60" font-family="Liberation Serif" font-weight="bold" font-size="23.7">Daimeter</text>
<text x="353.6" y="1013.60" font-family="Liberation Serif" font-weight="bold" font-size="23.7">(&#956;m)</text>
<text x="325.40" y="1044.20" text-anchor="middle" font-family="Liberation Serif" font-size="26">(b)</text>
</svg>
</body></html>
